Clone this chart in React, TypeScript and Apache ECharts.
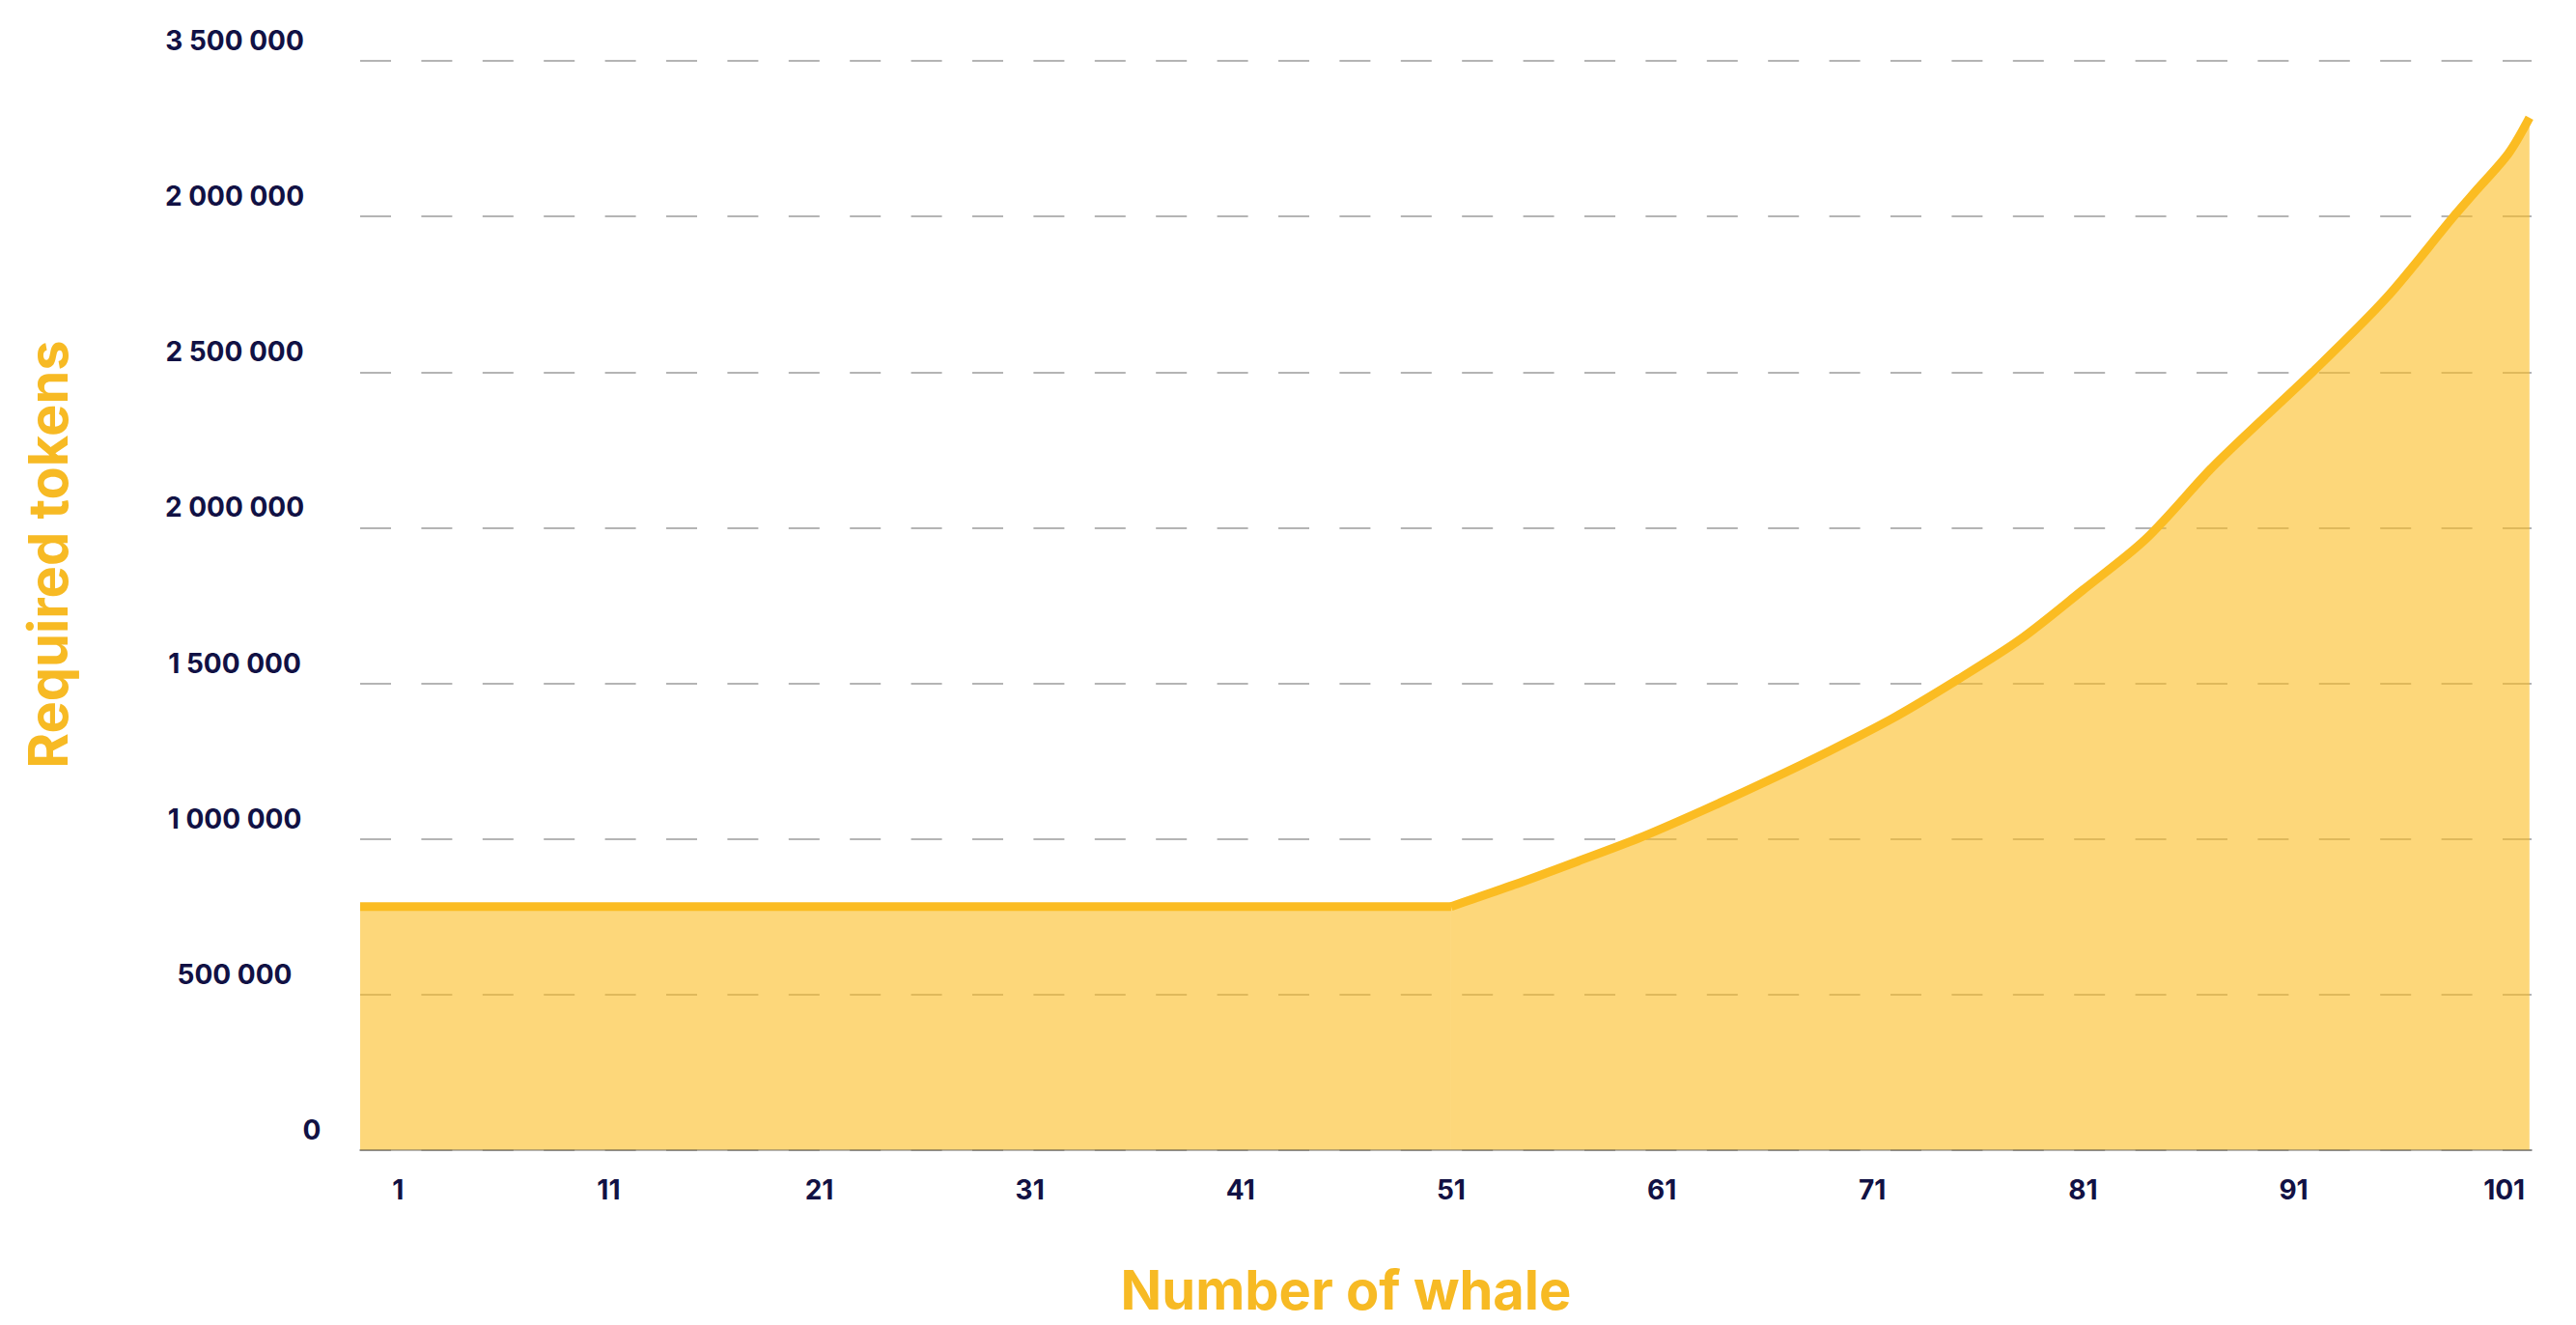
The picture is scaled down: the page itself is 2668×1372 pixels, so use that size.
import React, { useEffect, useRef } from "react";
import * as echarts from "echarts";

// flat part of the curve (number of whales, required tokens)
const flatWhales = [-0.8, 51];
const flatTokens = [783000, 783000];

// rising part of the curve
const riseWhales = [51, 54, 57, 60, 63, 66, 69, 72, 75, 78, 81, 84, 87.3, 91.9, 95.4, 98.6, 99.6, 101.2, 102.2];
const riseTokens = [783000, 853000, 928000, 1005000, 1093000, 1186000, 1284000, 1389000, 1510000, 1640000, 1800000, 1965000, 2205000, 2500000, 2738000, 3000000, 3078000, 3202000, 3317000];

// tick labels as printed on the chart
const xTickValues = [1, 11, 21, 31, 41, 51, 61, 71, 81, 91, 101];
const yTickLabels = ["0", "500 000", "1 000 000", "1 500 000", "2 000 000", "2 500 000", "2 000 000", "3 500 000"];

const xTitle = "Number of whale";
const yTitle = "Required tokens";

const FONT = "Inter, 'Noto Sans', sans-serif";
const LABEL_COLOR = "#111144";
const YELLOW = "#FBBC22";
const TITLE_COLOR = "#F7BA24";

export default function App() {
  const ref = useRef<HTMLDivElement>(null);

  useEffect(() => {
    if (!ref.current) return;
    const chart = echarts.init(ref.current, null, { renderer: "svg" });
    const lineCommon = {
      type: "line",
      symbol: "none",
      showSymbol: false,
      lineStyle: { color: YELLOW, width: 9, join: "round" },
      areaStyle: { color: YELLOW, opacity: 0.6 },
    };
    const option: any = {
      animation: false,
      backgroundColor: "#ffffff",
      grid: { left: 373, right: 46, top: 63, bottom: 181 },
      xAxis: {
        type: "value",
        min: -0.8,
        max: 102.3,
        z: 3,
        axisLine: { show: true, lineStyle: { color: "rgba(90,90,90,0.45)", width: 2 } },
        axisTick: { show: false },
        splitLine: { show: false },
        axisLabel: {
          customValues: xTickValues,
          margin: 27,
          fontSize: 28,
          fontWeight: 700,
          fontFamily: FONT,
          color: LABEL_COLOR,
        },
      },
      yAxis: {
        type: "value",
        min: 0,
        max: 3500000,
        interval: 500000,
        axisLine: { show: false },
        axisTick: { show: false },
        splitLine: {
          show: true,
          lineStyle: { color: "#b4b4b4", width: 2, type: [32, 31.4] },
        },
        axisLabel: {
          margin: 130,
          align: "center",
          verticalAlign: "middle",
          padding: [0, 0, 42, 0],
          fontSize: 28,
          fontWeight: 700,
          fontFamily: FONT,
          color: LABEL_COLOR,
          formatter: (v: number) => {
            const i = Math.round(v / 500000);
            const t = yTickLabels[i] ?? "";
            return i === 0 ? "{z|" + t + "}" : t;
          },
          rich: {
            z: {
              padding: [0, 0, 0, 160],
              fontSize: 28,
              fontWeight: 700,
              fontFamily: FONT,
              color: LABEL_COLOR,
            },
          },
        },
      },
      series: [
        {
          ...lineCommon,
          smooth: false,
          data: flatWhales.map((x, i) => [x, flatTokens[i]]),
        },
        {
          ...lineCommon,
          smooth: 0.3,
          data: riseWhales.map((x, i) => [x, riseTokens[i]]),
        },
      ],
      graphic: [
        {
          type: "text",
          x: 1394,
          y: 1336,
          style: {
            text: xTitle,
            fontSize: 56,
            fontWeight: 700,
            fontFamily: FONT,
            fill: TITLE_COLOR,
            align: "center",
            verticalAlign: "middle",
          },
        },
        {
          type: "text",
          x: 50,
          y: 574,
          rotation: Math.PI / 2,
          style: {
            text: yTitle,
            fontSize: 56,
            fontWeight: 700,
            fontFamily: FONT,
            fill: TITLE_COLOR,
            align: "center",
            verticalAlign: "middle",
          },
        },
      ],
    };
    chart.setOption(option);
    return () => chart.dispose();
  }, []);

  return (
    <div
      ref={ref}
      style={{ position: "fixed", left: 0, top: 0, width: 2668, height: 1372, background: "#fff" }}
    />
  );
}
